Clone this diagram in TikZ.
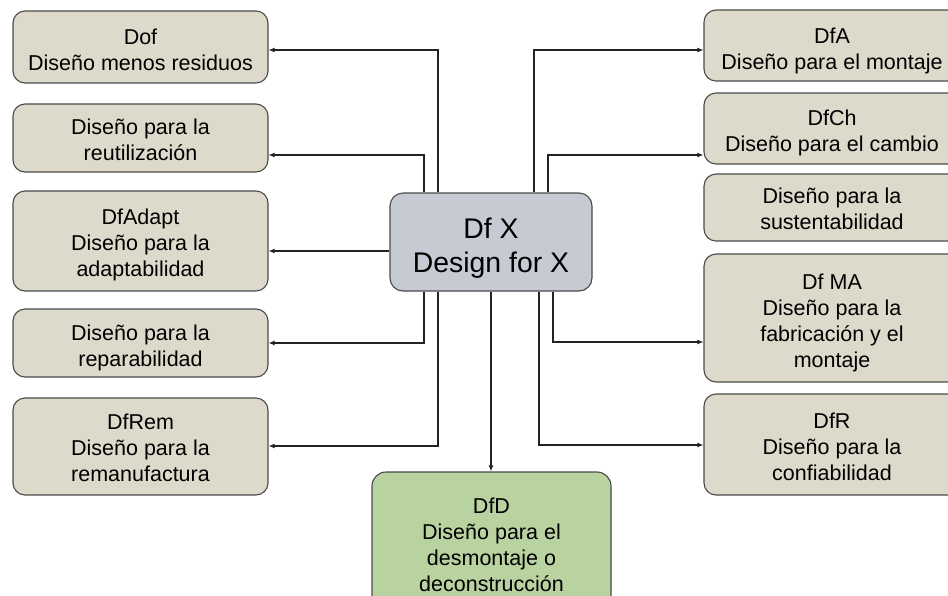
\documentclass[tikz,border=0pt]{standalone}
\usepackage{fontspec}
\setmainfont{Liberation Sans}
\usetikzlibrary{arrows.meta,calc}
\definecolor{beige}{HTML}{DDDACB}
\definecolor{bluegray}{HTML}{C5CAD3}
\definecolor{greenbox}{HTML}{B8D2A0}
\definecolor{edgegray}{HTML}{4A4A4A}
\definecolor{linegray}{HTML}{222222}
\begin{document}
\begin{tikzpicture}[x=1pt,y=-1pt,
  txt/.style={align=center, inner sep=0pt, text=black, font=\fontsize{21.5}{26}\selectfont},
  bigtxt/.style={txt, font=\fontsize{28.4}{34}\selectfont},
  box/.style={draw=edgegray, line width=1.1pt, rounded corners=12pt, fill=beige, inner sep=0pt},
  lbox/.style={box, minimum width=255pt},
  rbox/.style={box, minimum width=256pt},
  arr/.style={draw=linegray, line width=1.3pt, -{Latex[length=6pt,width=5pt]}}]
\useasboundingbox (0,0) rectangle (948,595);
\clip (0,0) rectangle (948,595);
% left column
\node[lbox, minimum height=72pt, label={[txt,yshift=-3pt]center:{Dof\\Diseño menos residuos}}] (dof) at (140.5,47) {};
\node[lbox, minimum height=68pt, label={[txt,yshift=-1.5pt]center:{Diseño para la\\reutilización}}] (reut) at (140.5,138) {};
\node[lbox, minimum height=100pt, label={[txt,yshift=-4pt]center:{DfAdapt\\Diseño para la\\adaptabilidad}}] (adapt) at (140.5,241) {};
\node[lbox, minimum height=68pt, label={[txt,yshift=-5pt]center:{Diseño para la\\reparabilidad}}] (repar) at (140.5,343) {};
\node[lbox, minimum height=97pt, label={[txt,yshift=-1.5pt]center:{DfRem\\Diseño para la\\remanufactura}}] (rem) at (140.5,446.5) {};
% right column
\node[rbox, minimum height=71pt, label={[txt,yshift=-5pt]center:{DfA\\Diseño para el montaje}}] (dfa) at (832,45.5) {};
\node[rbox, minimum height=71pt, label={[txt,yshift=-4pt]center:{DfCh\\Diseño para el cambio}}] (dfch) at (832,128.5) {};
\node[rbox, minimum height=67pt, label={[txt,yshift=-1.5pt]center:{Diseño para la\\sustentabilidad}}] (sust) at (832,207.5) {};
\node[rbox, minimum height=128pt, label={[txt,yshift=-5pt]center:{Df MA\\Diseño para la\\fabricación y el\\montaje}}] (dfma) at (832,318) {};
\node[rbox, minimum height=101pt, label={[txt,yshift=-2.5pt]center:{DfR\\Diseño para la\\confiabilidad}}] (dfr) at (832,444.5) {};
% centre
\node[box, fill=bluegray, rounded corners=13pt, minimum width=202pt, minimum height=98pt,
  label={[bigtxt,yshift=-6pt]center:{Df X\\Design for X}}] (cx) at (491,242) {};
\node[box, fill=greenbox, rounded corners=14pt, minimum width=239pt, minimum height=146pt,
  label={[txt]center:{DfD\\Diseño para el\\desmontaje o\\deconstrucción}}] (dfd) at (491.5,545) {};
% guide coordinates
\coordinate (L1) at (424,0);
\coordinate (L2) at (438,0);
\coordinate (R1) at (534,0);
\coordinate (R2) at (548,0);
\coordinate (R3) at (553,0);
\coordinate (R4) at (539,0);
\coordinate (D) at (491,0);
\coordinate (ya) at (0,50);
\coordinate (yb) at (0,155);
\coordinate (yc) at (0,251);
\coordinate (yd) at (0,343);
\coordinate (ye) at (0,446);
\coordinate (yf) at (0,342);
\coordinate (yg) at (0,445);
% connectors
\draw[arr] (cx.north -| L2) |- (dof.east |- ya);
\draw[arr] (cx.north -| L1) |- (reut.east |- yb);
\draw[arr] (cx.west |- yc) -- (adapt.east |- yc);
\draw[arr] (cx.south -| L1) |- (repar.east |- yd);
\draw[arr] (cx.south -| L2) |- (rem.east |- ye);
\draw[arr] (cx.north -| R1) |- (dfa.west |- ya);
\draw[arr] (cx.north -| R2) |- (dfch.west |- yb);
\draw[arr] (cx.south -| R3) |- (dfma.west |- yf);
\draw[arr] (cx.south -| R4) |- (dfr.west |- yg);
\draw[arr] (cx.south -| D) -- (dfd.north -| D);
\end{tikzpicture}
\end{document}
